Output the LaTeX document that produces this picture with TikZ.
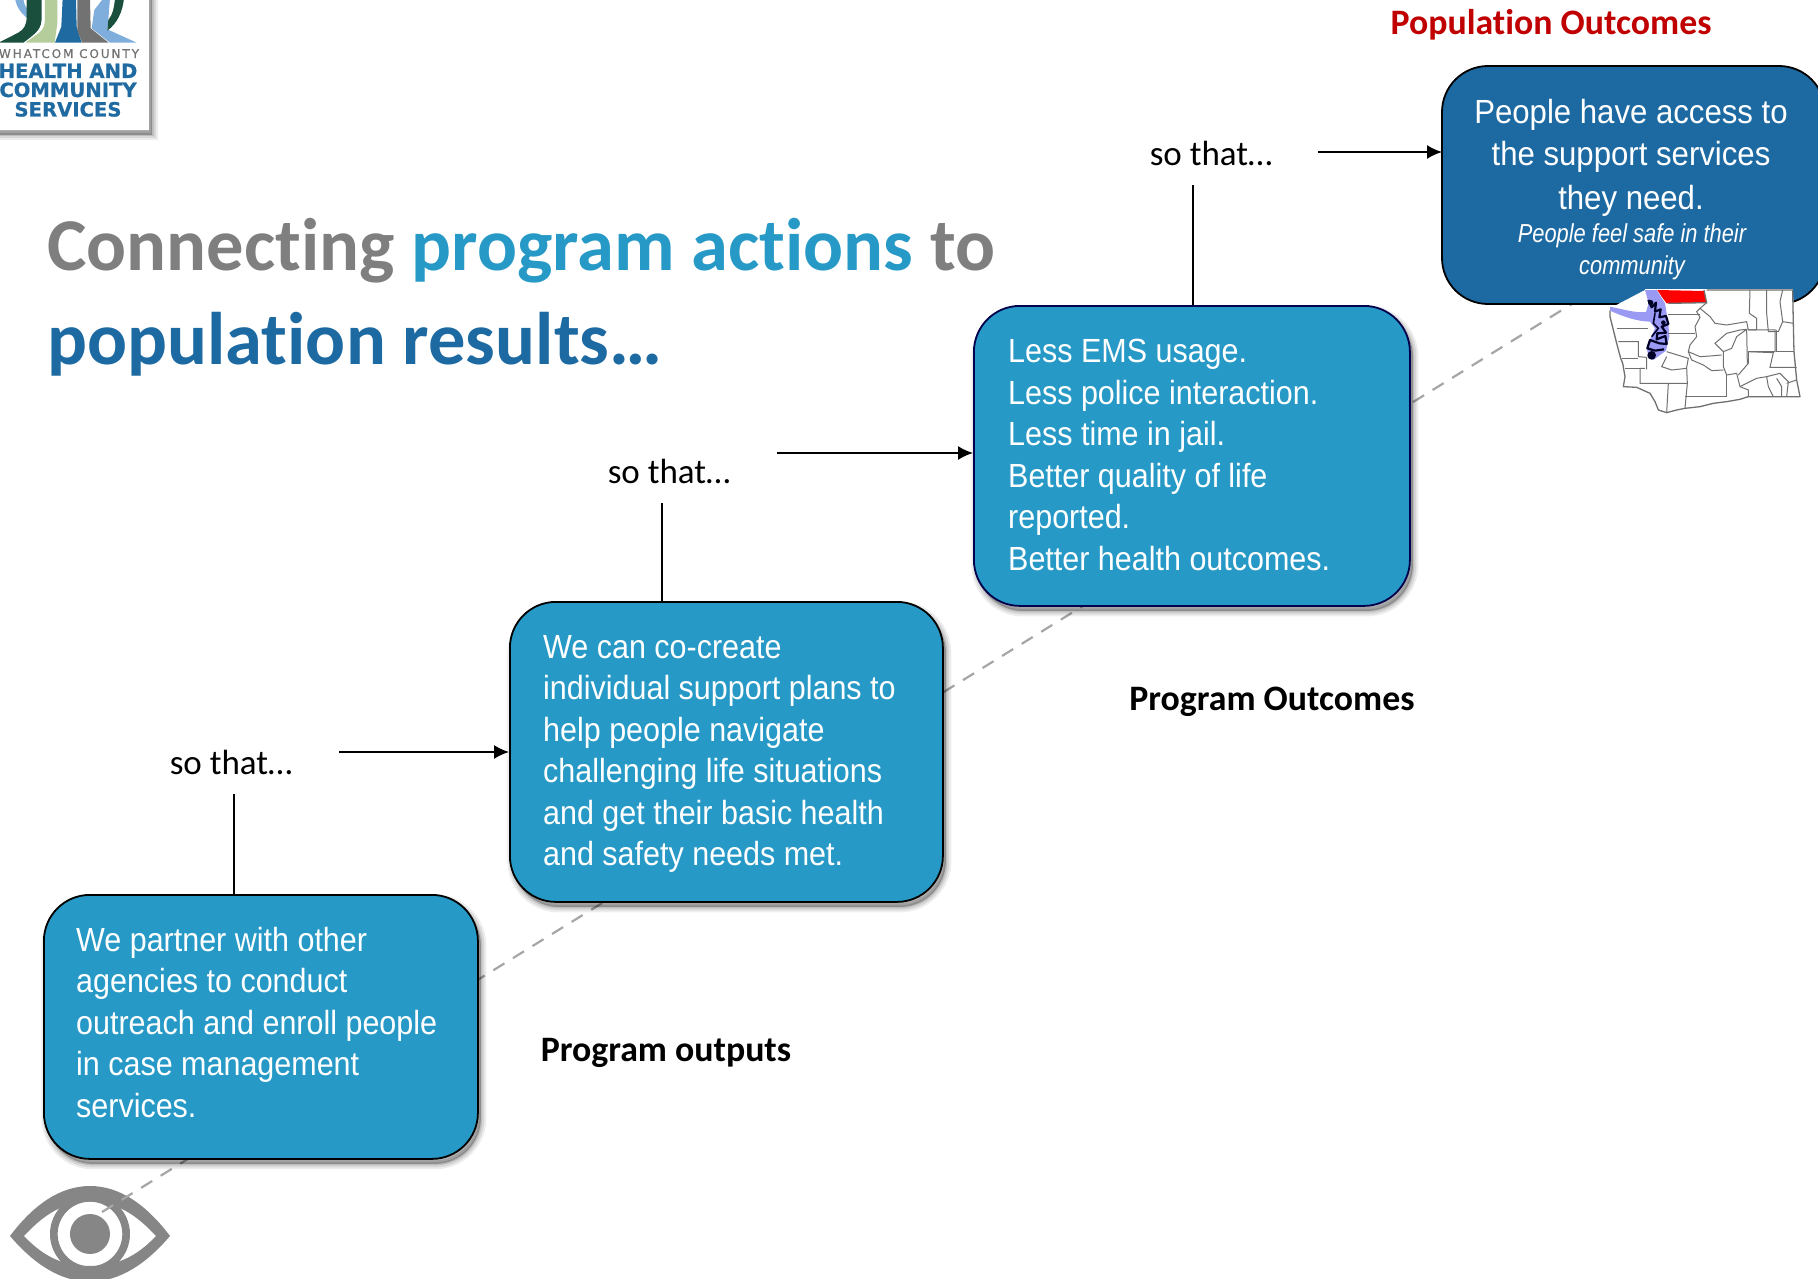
\documentclass[tikz,border=0pt]{standalone}
\usepackage{fontspec}
\usetikzlibrary{arrows.meta,shadows}
\setmainfont[Ligatures=NoCommon]{Carlito}
\newfontfamily\boxfont[FakeStretch=0.91]{Liberation Sans}
\newfontfamily\headfont[FakeStretch=0.93]{Liberation Sans}
\newfontfamily\notefont[FakeStretch=0.84,ItalicFont={Liberation Sans Italic}]{Liberation Sans}
\newfontfamily\logofont[FakeBold=0.6]{DejaVu Sans}
\definecolor{boxblue}{HTML}{2699C6}
\definecolor{deepblue}{HTML}{1D6AA2}
\definecolor{titlegray}{HTML}{7F7F7F}
\definecolor{popred}{HTML}{C00000}
\definecolor{dashgray}{HTML}{A6A6A6}
\definecolor{eyegray}{HTML}{868686}
\definecolor{logogreen}{HTML}{1A4F3E}
\definecolor{logolime}{HTML}{B4CD9B}
\definecolor{logosky}{HTML}{7FADDC}
\definecolor{logotext}{HTML}{1F6AA0}
\definecolor{mapline}{HTML}{707070}
\definecolor{mappurple}{HTML}{9A9AF5}
\tikzset{
  softshadow/.style={
    general shadow={draw=black,fill=black,line width=11pt,opacity=.07,shadow xshift=3pt,shadow yshift=-5pt},
    general shadow={draw=black,fill=black,line width=7pt,opacity=.09,shadow xshift=3pt,shadow yshift=-5pt},
    general shadow={draw=black,fill=black,line width=3pt,opacity=.12,shadow xshift=3pt,shadow yshift=-5pt}},
  stepbox/.style={draw=#1,line width=1.8pt,fill=boxblue,rounded corners=46pt,softshadow,anchor=north west},
  boxtext/.style={text=white,align=left,anchor=north west,inner sep=0pt,font=\boxfont\fontsize{33.5}{41.5}\selectfont},
  sothat/.style={font=\fontsize{35}{40}\selectfont,text=black},
  steplabel/.style={font=\bfseries\fontsize{35.8}{40}\selectfont,text=black},
  link/.style={line width=1.6pt,draw=black},
  flow/.style={link,-{Latex[length=15pt,width=14pt]}},
  countyline/.style={draw=mapline,line width=1pt},
  titletext/.style={font=\bfseries\fontsize{74.5}{80}\selectfont,anchor=base west,inner sep=0pt},
  logotxt/.style={font=\logofont\bfseries\fontsize{19.6}{20}\selectfont,text=logotext,anchor=base,inner sep=0pt},
}
\begin{document}
\begin{tikzpicture}[x=1pt,y=-1pt]
\useasboundingbox (0,0) rectangle (1818,1279);
\coordinate (guideA) at (102,1212);
\coordinate (guideB) at (1575,302);

% logo panel
\fill[softshadow,fill=white] (-20,-20) rectangle (149,130);
\begin{scope}[scale=.3333]
\fill[logosky] (45,-5) .. controls (50,25) and (65,40) .. (85,58) -- (85,30) .. controls (75,20) and (72,10) .. (70,-5) -- cycle;
\fill[logogreen] (0,126) -- (55,98) .. controls (72,88) and (80,75) .. (80,50) -- (80,-5) -- (125,-5) -- (125,50) .. controls (125,85) and (115,95) .. (70,128) -- (0,128) -- cycle;
\fill[logolime] (76,128) -- (118,98) .. controls (130,88) and (135,75) .. (135,55) -- (135,-5) -- (172,-5) -- (172,70) -- (164,128) -- cycle;
\fill[logotext] (165,128) -- (184,80) -- (188,-5) -- (228,-5) -- (230,80) -- (245,128) -- cycle;
\fill[eyegray!85!black] (246,128) -- (232,90) -- (232,-5) -- (270,-5) -- (272,85) -- (326,128) -- cycle;
\fill[logosky] (330,128) -- (275,85) -- (283,30) -- (310,-5) -- (330,-5) -- (325,60) -- (322,88) -- (410,128) -- cycle;
\fill[logogreen] (345,-5) -- (372,-5) .. controls (368,35) and (352,70) .. (322,92) -- (325,60) .. controls (338,45) and (343,20) .. (345,-5) -- cycle;
\end{scope}
\node[anchor=base,inner sep=0pt,text=titlegray!90!black,font=\fontsize{12}{12}\selectfont\logofont\addfontfeature{LetterSpace=16}] (logoA) at (69,58) {WHATCOM COUNTY};
\node[logotxt] (logoB) at (68,78) {HEALTH AND};
\node[logotxt] (logoC) at (68,97) {COMMUNITY};
\node[logotxt] (logoD) at (68,116.5) {SERVICES};

% title
\node[titletext,text=titlegray] (titleA) at (47,270) {Connecting \textcolor{boxblue}{program actions} to};
\node[titletext,text=deepblue] (titleB) at (47,364) {population results\ldots};

% eye
\begin{scope}[shift={(0,1130)},scale=.3333]
\fill[eyegray,even odd rule] (30,318) .. controls (100,225) and (180,168) .. (270,168) .. controls (360,168) and (440,225) .. (510,318) .. controls (440,400) and (360,455) .. (270,455) .. controls (180,455) and (100,400) .. (30,318) -- cycle
  (72,318) .. controls (130,380) and (190,408) .. (270,408) .. controls (350,408) and (410,380) .. (468,318) .. controls (410,255) and (350,215) .. (270,215) .. controls (190,215) and (130,255) .. (72,318) -- cycle;
\fill[eyegray,even odd rule] (270,312) circle (120) (270,312) circle (97);
\fill[eyegray] (270,312) circle (60);
\end{scope}

\draw[dashgray,line width=2.2pt,dash pattern=on 13pt off 10pt] (guideA) -- (guideB);

% boxes
\node[stepbox=black,minimum width=434pt,minimum height=264pt] (boxA) at (43,894) {};
\node[stepbox=black,minimum width=433pt,minimum height=300pt] (boxB) at (509,601) {};
\node[stepbox=black!40!blue!50!black,minimum width=436pt,minimum height=300pt] (boxC) at (973,305) {};
\draw[line width=1.8pt,fill=deepblue,rounded corners=46pt,draw=black] (1442,66) rectangle (1825,304);
\coordinate (boxDwest) at (1442,152);

\node[boxtext] (textA) at (76,927) {We partner with other\\agencies to conduct\\outreach and enroll people\\in case management\\services.};
\node[boxtext] (textB) at (543,635) {We can co-create\\individual support plans to\\help people navigate\\challenging life situations\\and get their basic health\\and safety needs met.};
\node[boxtext] (textC) at (1008,339) {Less EMS usage.\\Less police interaction.\\Less time in jail.\\Better quality of life\\reported.\\Better health outcomes.};
\node[text=white,align=center,anchor=base,inner sep=0pt,font=\headfont\fontsize{33.5}{43}\selectfont] (textD) at (1631,209) {People have access to\\the support services\\they need.};
\node[text=white,align=center,anchor=base,inner sep=0pt,font=\notefont\itshape\fontsize{26}{32}\selectfont] (textE) at (1632,274) {People feel safe in their\\community};

% so that labels and connectors
\node[sothat] (soA) at (231,762) {so that\ldots};
\node[sothat] (soB) at (669,471) {so that\ldots};
\node[sothat] (soC) at (1211,153) {so that\ldots};
\coordinate (upA) at (234,794);
\coordinate (upB) at (662,503);
\coordinate (upC) at (1193,185);
\coordinate (outA) at (339,752);
\coordinate (outB) at (777,453);
\coordinate (outC) at (1318,152);
\draw[link] (upA) -- (upA |- boxA.north);
\draw[link] (upB) -- (upB |- boxB.north);
\draw[link] (upC) -- (upC |- boxC.north);
\draw[flow] (outA) -- (outA -| boxB.west);
\draw[flow] (outB) -- (outB -| boxC.west);
\draw[flow] (outC) -- (boxDwest);

% step captions
\node[steplabel,text=popred] (capD) at (1551,25) {Population Outcomes};
\node[steplabel] (capC) at (1272,702) {Program Outcomes};
\node[steplabel] (capB) at (666,1053) {Program outputs};

% map of the state
\fill[white] (1645,289) rectangle (1793,312);
\begin{scope}[shift={(1600,280)},scale=.3333]
\fill[white] (30,85) -- (135,30) -- (578,30) -- (600,350) -- (200,398) -- (70,320) -- cycle;
\fill[mappurple] (30,80) .. controls (70,88) and (110,100) .. (138,96) -- (146,70) -- (135,30) -- (170,30) -- (195,70) -- (205,130) -- (208,170) -- (198,212) -- (160,240) -- (145,232) -- (140,200) -- (165,145) -- (150,125) .. controls (110,124) and (70,110) .. (30,92) -- cycle;
\fill[red] (172,30) -- (312,33) -- (320,68) -- (200,70) -- (185,50) -- cycle;
\draw[mapline,line width=1.3pt,line join=round] (30,92) -- (30,110) -- (50,190) -- (62,235) -- (68,250) -- (75,290) -- (70,320) -- (110,322) -- (150,340) -- (165,365) -- (175,390) -- (200,398) -- (230,390) -- (255,385) -- (300,380) -- (340,370) -- (380,365) -- (420,358) -- (445,350) -- (600,350) -- (590,300) -- (582,215) -- (580,130) -- (578,30) -- (320,30);
\draw[mapline,line width=1.3pt] (205,70) -- (320,68) -- (312,30);
\begin{scope}[countyline]
\draw (450,30) -- (448,100) -- (470,115) -- (470,150);
\draw (500,30) -- (500,100) -- (505,155) -- (535,155) -- (548,125) -- (540,65) -- (548,30);
\draw (548,125) -- (580,130);
\draw (470,150) -- (445,150) -- (440,125) -- (410,130) -- (380,135) -- (345,130) -- (330,110) -- (300,85) -- (320,68);
\draw (300,85) -- (290,95) -- (300,112) -- (285,140) -- (290,170) -- (270,195) -- (265,215) -- (300,230) -- (330,228) -- (365,225);
\draw (205,103) -- (300,103);
\draw (205,160) -- (285,160);
\draw (200,215) -- (265,235) -- (260,262) -- (262,310) -- (205,310) -- (120,310) -- (120,265) -- (135,265);
\draw (445,150) -- (525,150) -- (525,215) -- (445,215) -- (445,250) -- (415,285);
\draw (530,150) -- (530,215) -- (582,215);
\draw (445,215) -- (520,218) -- (510,262) -- (590,262);
\draw (440,148) -- (442,250);
\draw (380,160) -- (345,190) -- (370,215) -- (370,260) -- (380,285);
\draw (380,160) -- (420,150) -- (440,148) -- (410,170) -- (395,205) -- (370,215);
\draw (265,215) -- (275,240) -- (310,255) -- (335,272) -- (370,270);
\draw (200,230) -- (185,260) -- (215,270) -- (260,265);
\draw (50,145) -- (145,145);
\draw (55,185) -- (115,185) -- (115,230) -- (140,232) -- (140,268);
\draw (65,235) -- (115,235);
\draw (75,265) -- (120,265);
\draw (205,310) -- (200,398);
\draw (255,350) -- (380,350);
\draw (262,310) -- (255,385);
\draw (380,285) -- (410,280) -- (420,320) -- (445,330) -- (445,350);
\draw (380,285) -- (380,350);
\draw (420,320) -- (470,295) -- (500,290) -- (505,320) -- (520,350);
\draw (500,290) -- (540,280) -- (565,305) -- (560,350);
\draw (530,295) -- (545,320) -- (545,350);
\draw (560,310) -- (590,300);
\end{scope}
\draw[black!85!blue,line width=2.2pt,line join=round] (145,60) -- (155,82) -- (168,68) -- (165,95) -- (182,88) -- (178,112) -- (198,108) -- (205,132) -- (185,140) -- (198,158) -- (172,160) -- (170,178) -- (196,168) -- (200,192) -- (178,190) -- (150,180) -- (142,205) -- (165,212) -- (192,208);
\draw[black!85!blue,line width=1.6pt] (165,100) -- (160,130) -- (175,145) -- (155,170);
\fill[black!85!blue] (155,226) circle (13) (152,68) circle (8) (190,128) circle (7);
\end{scope}
\end{tikzpicture}
\end{document}
